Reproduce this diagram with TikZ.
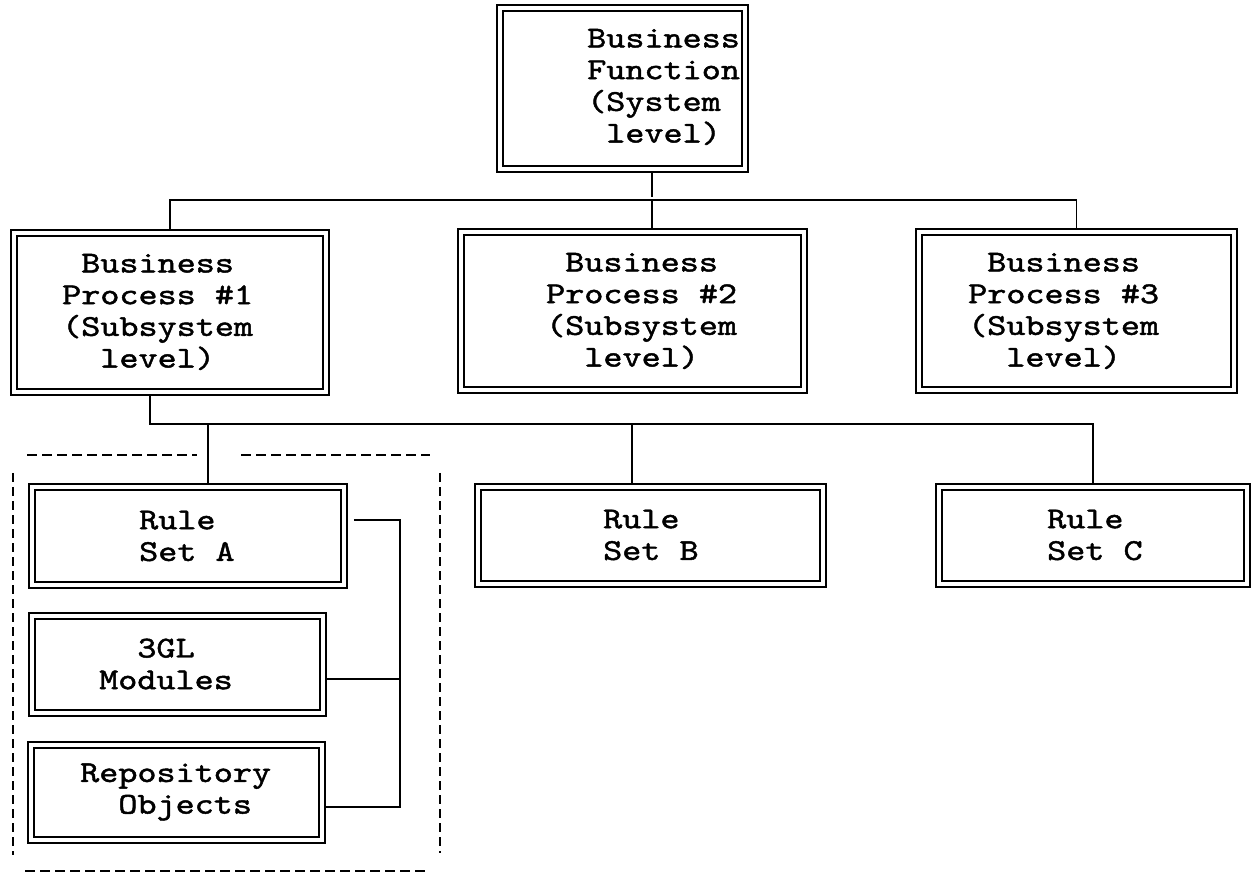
\documentclass[tikz,border=0pt]{standalone}
\usepackage{fontspec}
\setmonofont{lmmono10-regular.otf}[FakeStretch=1.2, FakeBold=1.5]
\begin{document}
\begin{tikzpicture}[x=1pt,y=-1pt,
  dbox/.style={draw, double, double distance=4pt, line width=1.6pt, inner sep=0pt},
  conn/.style={line width=1.7pt, shorten >=3pt},
  dashline/.style={line width=2.6pt, dash pattern=on 10pt off 5pt},
  dashvert/.style={line width=1.8pt, dash pattern=on 9pt off 5pt},
  txt/.style={font=\ttfamily\fontsize{30.3}{31.7}\selectfont, align=left, anchor=west, inner sep=0pt}]
\useasboundingbox (0,0) rectangle (1251,874);

% boxes
\node[dbox, minimum width=245pt, minimum height=161pt] (top) at (622.5,88.5) {};
\node[dbox, minimum width=312pt, minimum height=159pt] (p1) at (170,312.5) {};
\node[dbox, minimum width=343pt, minimum height=158pt] (p2) at (632.5,311) {};
\node[dbox, minimum width=315pt, minimum height=158pt] (p3) at (1076.5,311) {};
\node[dbox, minimum width=312pt, minimum height=98pt] (rA) at (188,536) {};
\node[dbox, minimum width=291pt, minimum height=97pt] (rM) at (177.5,664.5) {};
\node[dbox, minimum width=291pt, minimum height=95pt] (rR) at (176.5,792.5) {};
\node[dbox, minimum width=345pt, minimum height=97pt] (rB) at (650.5,535.5) {};
\node[dbox, minimum width=308pt, minimum height=97pt] (rC) at (1093,535.5) {};

% texts
\node[txt] (topt) at (587,87) {Business\\Function\\(System\\\hphantom{x}level)};
\node[txt] (p1t) at (62,312) {\hphantom{x}Business\\Process \#1\\(Subsystem\\\hphantom{xx}level)};
\node[txt] (p2t) at (546,311) {\hphantom{x}Business\\Process \#2\\(Subsystem\\\hphantom{xx}level)};
\node[txt] (p3t) at (968,311) {\hphantom{x}Business\\Process \#3\\(Subsystem\\\hphantom{xx}level)};
\node[txt] (rAt) at (139,536) {Rule\\Set A};
\node[txt] (rMt) at (99,664) {\hphantom{xx}3GL\\Modules};
\node[txt] (rRt) at (80,792) {Repository\\\hphantom{xx}Objects};
\node[txt] (rBt) at (603,535) {Rule\\Set B};
\node[txt] (rCt) at (1047,535) {Rule\\Set C};

% connectors level 1
\coordinate (j1) at (652,200);
\draw[conn, shorten <=3pt] (j1 |- top.south) -- (j1);
\draw[conn, shorten <=3pt] (p1.north) |- (j1) -| (p3.north);
\draw[conn] (j1) -- (j1 |- p2.north);

% connectors level 2
\coordinate (j2) at (150,424);
\coordinate (ja) at (208,424);
\coordinate (jb) at (632,424);
\draw[conn, shorten <=3pt] (j2 |- p1.south) -- (j2) -| (rC.north);
\draw[conn] (ja) -- (ja |- rA.north);
\draw[conn] (jb) -- (jb |- rB.north);

% bracket
\coordinate (ka) at (400,520);
\coordinate (km) at (400,679);
\coordinate (kr) at (400,807);
\draw[conn, shorten <=9pt] (ka -| rA.east) -- (ka) -- (kr) -- (kr -| rR.east);
\draw[conn, shorten <=3pt, shorten >=0pt] (km -| rM.east) -- (km);

% dashed frame
\coordinate (d1) at (27,455);
\coordinate (d2) at (197,455);
\coordinate (d3) at (241,455);
\coordinate (d4) at (430,455);
\coordinate (d5) at (13,473);
\coordinate (d6) at (13,855);
\coordinate (d7) at (440,473);
\coordinate (d8) at (440,853);
\coordinate (d9) at (25,871);
\coordinate (d10) at (427,871);
\draw[dashline] (d1) -- (d2);
\draw[dashline] (d3) -- (d4);
\draw[dashline] (d9) -- (d10);
\draw[dashvert] (d5) -- (d6);
\draw[dashvert] (d7) -- (d8);
\end{tikzpicture}
\end{document}
